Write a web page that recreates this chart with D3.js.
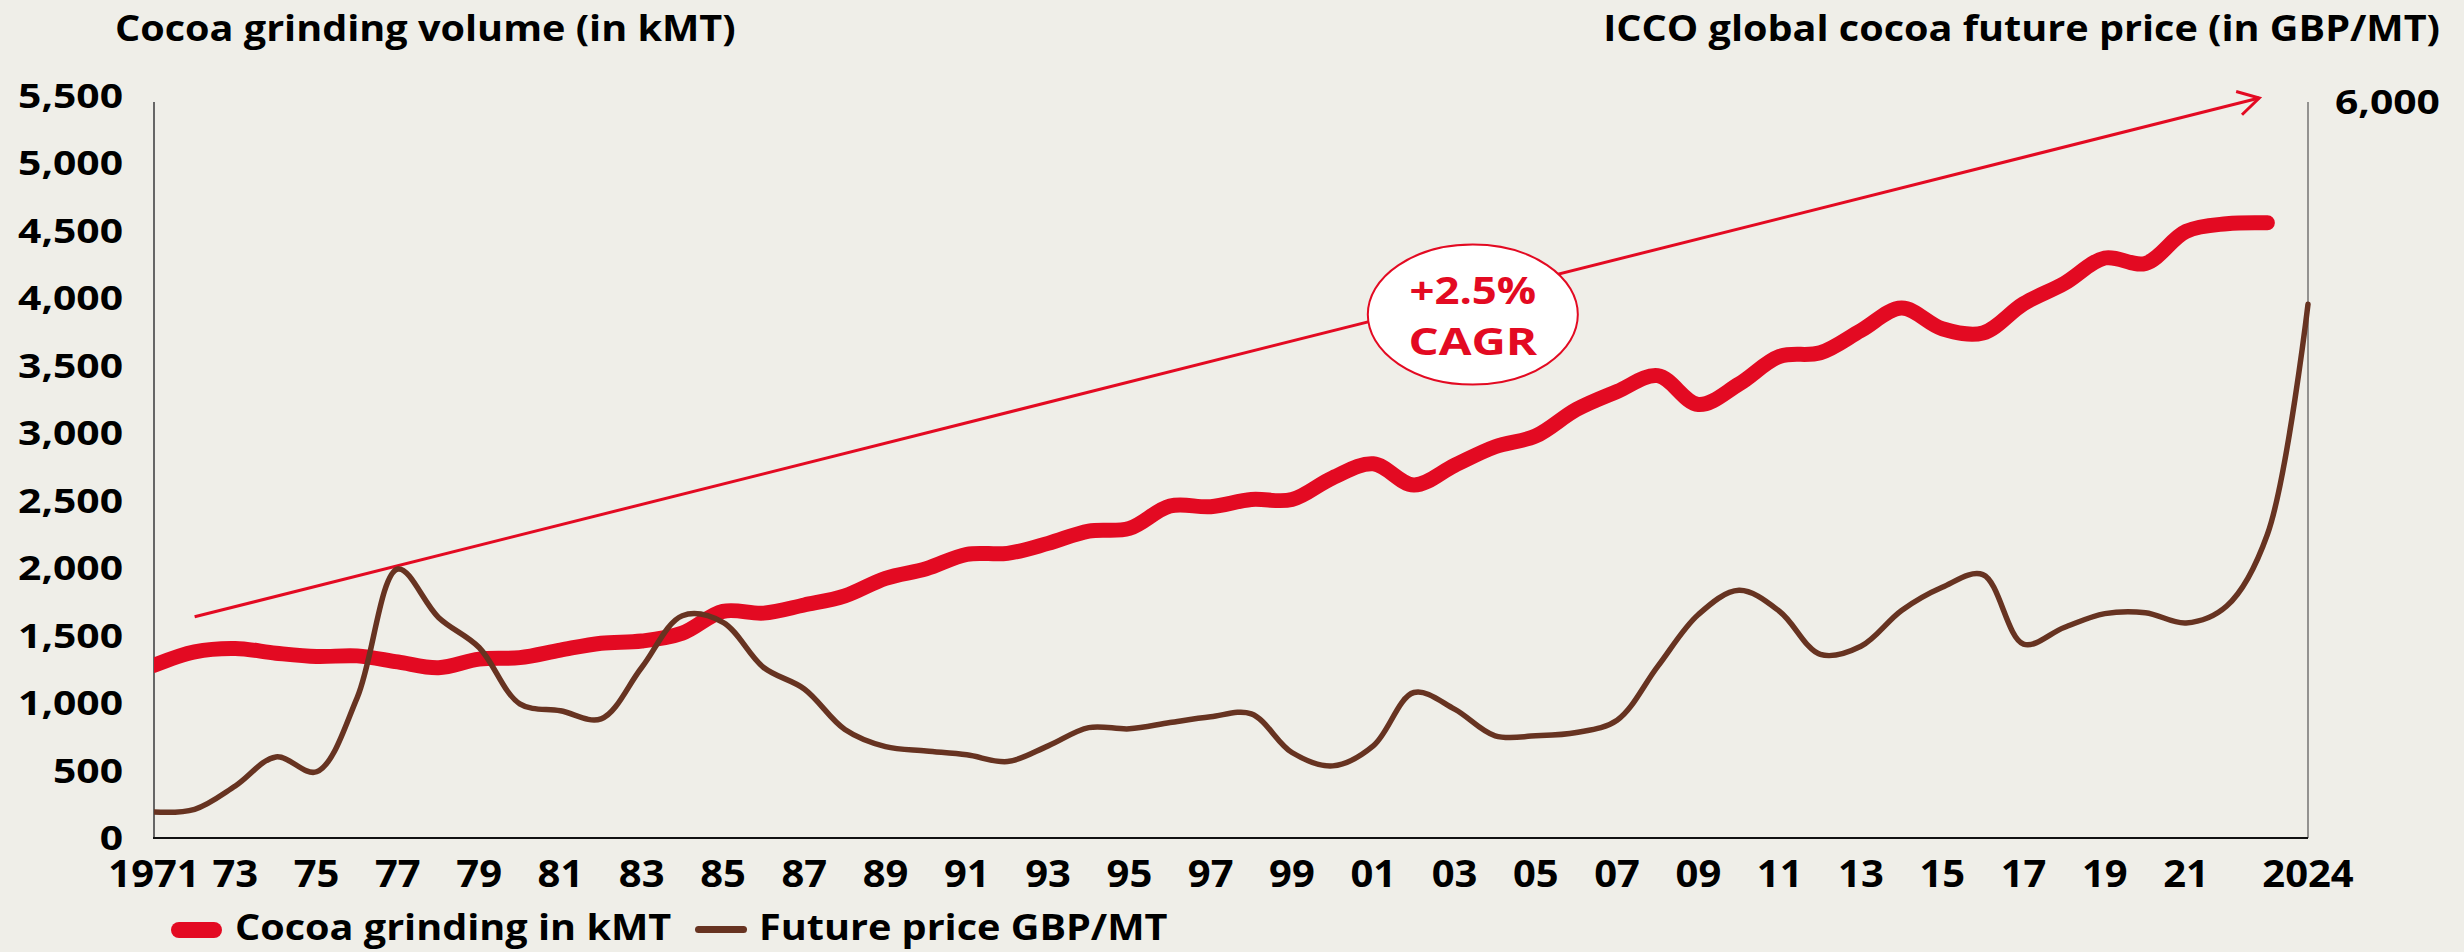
<!DOCTYPE html>
<html><head><meta charset="utf-8">
<script src="https://cdn.jsdelivr.net/npm/d3@7"></script>
<style>
html,body{margin:0;padding:0;background:#efeee8;}
svg{display:block;}
text{font-family:"Open Sans",sans-serif;font-weight:700;}
</style>
</head><body>
<svg id="c" width="2464" height="952"></svg>
<script>
// ---- data ----
const years = [1971,1972,1973,1974,1975,1976,1977,1978,1979,1980,1981,1982,1983,1984,1985,1986,1987,1988,1989,1990,
  1991,1992,1993,1994,1995,1996,1997,1998,1999,2000,2001,2002,2003,2004,2005,2006,2007,2008,2009,2010,
  2011,2012,2013,2014,2015,2016,2017,2018,2019,2020,2021,2022,2023,2024];
// Cocoa grinding in kMT (1971-2023)
const grinding = [1280,1380,1405,1370,1345,1350,1305,1262,1326,1337,1393,1444,1460,1519,1680,1667,1727,1795,1925,1996,
  2103,2110,2184,2275,2295,2461,2456,2509,2509,2670,2774,2616,2762,2900,2980,3177,3310,3427,3213,3365,
  3570,3597,3762,3928,3775,3743,3960,4110,4299,4259,4496,4553,4560];
// Future price GBP/MT (1971-2024)
const price = [212,234,424,661,540,1145,2193,1798,1553,1094,1037,971,1390,1812,1758,1390,1215,885,745,710,
  678,623,751,900,890,941,988,1012,697,588,751,1186,1051,833,833,860,960,1399,1822,2019,
  1847,1497,1563,1855,2044,2147,1581,1716,1829,1837,1753,1891,2474,4351];
const leftTicks = [0,500,1000,1500,2000,2500,3000,3500,4000,4500,5000,5500];
const rightTicks = [6000];
const xTickYears = [1971,1973,1975,1977,1979,1981,1983,1985,1987,1989,1991,1993,1995,1997,1999,2001,2003,2005,2007,2009,2011,2013,2015,2017,2019,2021,2024];
const xTickLabels = ["1971","73","75","77","79","81","83","85","87","89","91","93","95","97","99","01","03","05","07","09","11","13","15","17","19","21","2024"];
const trendStart = [1972, 1640];
const trendEnd = [2022.8, 5485];
const cagrAt = [2003.45, 3880];
const cagrText = ["+2.5%", "CAGR"];
const titleLeft = "Cocoa grinding volume (in kMT)";
const titleRight = "ICCO global cocoa future price (in GBP/MT)";
const legendNames = ["Cocoa grinding in kMT", "Future price GBP/MT"];

// ---- layout ----
const RED = "#e30a22", BROWN = "#673321";
const svg = d3.select("#c");
const x = d3.scaleLinear().domain([1971, 2024]).range([154, 2308]);
const yL = d3.scaleLinear().domain([0, 5500]).range([838, 96]);
const yR = d3.scaleLinear().domain([0, 6000]).range([838, 102]);

svg.append("rect").attr("width", 2464).attr("height", 952).attr("fill", "#efeee8");

// text helper: horizontally widened bold text (to mimic the wide geometric face)
function label(parent, tx, ty, str, size, sx, anchor, fill) {
  return parent.append("text")
    .attr("transform", `translate(${tx},${ty}) scale(${sx},1)`)
    .attr("text-anchor", anchor || "start")
    .attr("font-size", size).attr("fill", fill || "#000").text(str);
}

// titles
label(svg, 115, 41, titleLeft, 36, 1.1, "start");
label(svg, 2440, 41, titleRight, 36, 1.1, "end");

// axes lines
svg.append("line").attr("x1", x(1971)).attr("x2", x(1971)).attr("y1", yR(6000)).attr("y2", yL(0))
  .attr("stroke", "#666").attr("stroke-width", 2);
svg.append("line").attr("x1", x(2024)).attr("x2", x(2024)).attr("y1", yR(6000)).attr("y2", yL(0))
  .attr("stroke", "#555").attr("stroke-width", 1.2);
svg.append("line").attr("x1", x(1971) - 1).attr("x2", x(2024)).attr("y1", yL(0)).attr("y2", yL(0))
  .attr("stroke", "#111").attr("stroke-width", 2);

// left ticks
const gl = svg.append("g");
leftTicks.forEach(d => label(gl, 123, yL(d) + 12, d3.format(",")(d), 34, 1.2, "end"));
// right ticks
const gr = svg.append("g");
rightTicks.forEach(d => label(gr, 2335, yR(d) + 12, d3.format(",")(d), 34, 1.2, "start"));
// x ticks
const gx = svg.append("g");
xTickYears.forEach((d, i) => label(gx, x(d), 887, xTickLabels[i], 37, 1.08, "middle"));

// clip
svg.append("clipPath").attr("id", "clip").append("rect")
  .attr("x", x(1971)).attr("y", 0).attr("width", 2464).attr("height", 952);

// trend arrow
const ts = [x(trendStart[0]), yL(trendStart[1])], te = [x(trendEnd[0]), yL(trendEnd[1])];
svg.append("line").attr("x1", ts[0]).attr("y1", ts[1]).attr("x2", te[0]).attr("y2", te[1])
  .attr("stroke", RED).attr("stroke-width", 3);
const ang = Math.atan2(te[1] - ts[1], te[0] - ts[0]);
const al = 24, aa = Math.PI / 6;
const arm = s => [te[0] - al * Math.cos(ang + s * aa), te[1] - al * Math.sin(ang + s * aa)];
svg.append("path").attr("d", d3.line()([arm(1), te, arm(-1)]))
  .attr("fill", "none").attr("stroke", RED).attr("stroke-width", 3).attr("stroke-linejoin", "miter");

// series
const g = svg.append("g").attr("clip-path", "url(#clip)");
const lineL = d3.line().x((d, i) => x(years[i])).y(d => yL(d)).curve(d3.curveCatmullRom.alpha(0.5));
const lineR = d3.line().x((d, i) => x(years[i])).y(d => yR(d)).curve(d3.curveCatmullRom.alpha(0.5));
g.append("path").attr("d", lineL(grinding)).attr("fill", "none").attr("stroke", RED)
  .attr("stroke-width", 15).attr("stroke-linecap", "round").attr("stroke-linejoin", "round");
g.append("path").attr("d", lineR(price)).attr("fill", "none").attr("stroke", BROWN)
  .attr("stroke-width", 5.5).attr("stroke-linecap", "round").attr("stroke-linejoin", "round");

// CAGR bubble
const cx = x(cagrAt[0]), cy = yL(cagrAt[1]);
svg.append("ellipse").attr("cx", cx).attr("cy", cy).attr("rx", 105).attr("ry", 70)
  .attr("fill", "#fff").attr("stroke", RED).attr("stroke-width", 2);
label(svg, cx, cy - 11, cagrText[0], 38, 1.15, "middle", RED);
label(svg, cx, cy + 40, cagrText[1], 38, 1.25, "middle", RED);

// legend
svg.append("rect").attr("x", 171).attr("y", 922).attr("width", 51).attr("height", 16).attr("rx", 8)
  .attr("fill", RED);
label(svg, 235, 940, legendNames[0], 36, 1.1, "start");
svg.append("rect").attr("x", 695).attr("y", 926).attr("width", 52).attr("height", 7).attr("rx", 3.5)
  .attr("fill", BROWN);
label(svg, 759, 940, legendNames[1], 36, 1.1, "start");
</script>
</body></html>
